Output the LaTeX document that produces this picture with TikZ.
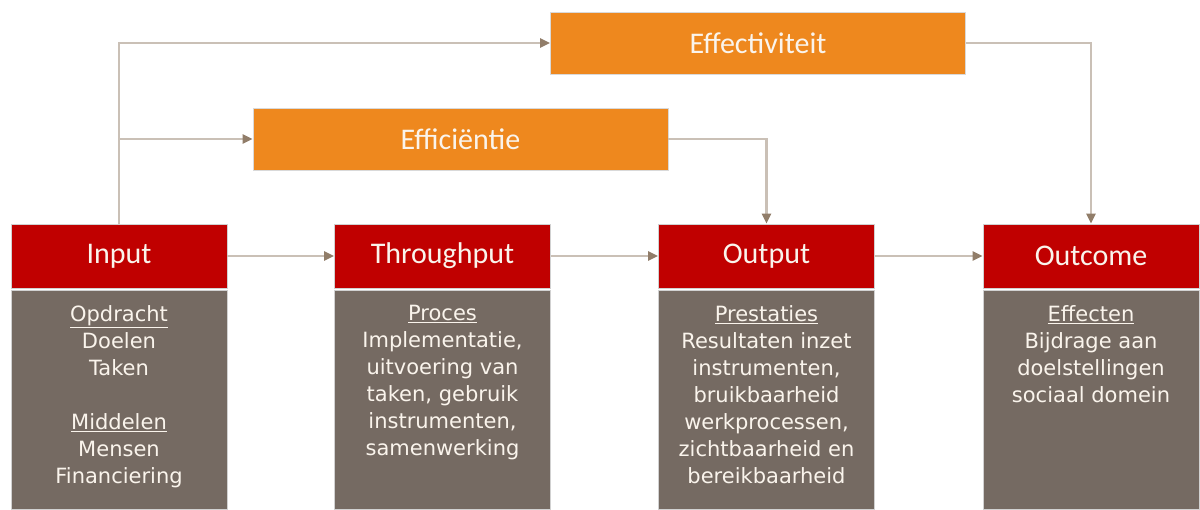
\documentclass[tikz,border=0pt]{standalone}
\usepackage{fontspec}
\setmainfont{DejaVu Sans}
\newfontfamily\headf{Carlito}
\newfontfamily\bodyf{DejaVu Sans}
\usetikzlibrary{arrows.meta}
\definecolor{hdred}{RGB}{192,0,0}
\definecolor{bodyc}{RGB}{117,106,98}
\definecolor{orng}{RGB}{238,136,30}
\definecolor{linec}{RGB}{202,192,182}
\definecolor{tipc}{RGB}{145,125,105}
\definecolor{txtc}{RGB}{250,244,236}
\begin{document}
\begin{tikzpicture}[x=1pt,y=-1pt,
  hdr/.style={rectangle,fill=hdred,draw=black!18,line width=0.8pt,minimum width=216pt,minimum height=64pt,inner sep=0pt,
    text=txtc,font=\headf\fontsize{30}{34}\selectfont},
  bodybox/.style={rectangle,fill=bodyc,draw=black!18,line width=0.8pt,minimum width=216pt,minimum height=219pt,inner sep=0pt},
  bodytxt/.style={anchor=north,align=center,inner sep=0pt,text=txtc,font=\bodyf\fontsize{21}{27}\selectfont},
  obox/.style={rectangle,fill=orng,draw=black!15,line width=0.8pt,minimum width=415pt,minimum height=62pt,inner sep=0pt,
    text=txtc,font=\headf\fontsize{30}{34}\selectfont},
  conn/.style={draw=linec,line width=2.8pt,-{Triangle[length=10pt,width=9pt,color=tipc]}},
  plain/.style={draw=linec,line width=2.8pt}
]
\useasboundingbox (0,0) rectangle (1200,509);
\fill[white] (0,0) rectangle (1200,509);

% headers
\node[hdr] (in) at (119,256) {Input};
\node[hdr] (thr) at (442.5,256) {Throughput};
\node[hdr] (out) at (766.5,256) {Output};
\node[hdr] (oc) at (1091,256) {Outcome};

% bodies
\node[bodybox] (inb) at (119,399.5) {};
\node[bodybox] (thrb) at (442.5,399.5) {};
\node[bodybox] (outb) at (766.5,399.5) {};
\node[bodybox] (ocb) at (1091,399.5) {};

\node[bodytxt] (int) at (119,305) {\underline{Opdracht}\\Doelen\\Taken\\[27pt]\underline{Middelen}\\Mensen\\Financiering};
\node[bodytxt] (thrt) at (442.5,305) {\underline{Proces}\\Implementatie,\\uitvoering van\\taken, gebruik\\instrumenten,\\samenwerking};
\node[bodytxt] (outt) at (766.5,305) {\underline{Prestaties}\\Resultaten inzet\\instrumenten,\\bruikbaarheid\\werkprocessen,\\zichtbaarheid en\\bereikbaarheid};
\node[bodytxt] (oct) at (1091,305) {\underline{Effecten}\\Bijdrage aan\\doelstellingen\\sociaal domein};

% orange boxes
\node[obox] (effi) at (460.5,139) {Efficiëntie};
\node[obox] (effe) at (758,43) {Effectiviteit};

% connectors
\draw[conn] (in.east) -- (thr.west);
\draw[conn] (thr.east) -- (out.west);
\draw[conn] (out.east) -- (oc.west);

\coordinate (split) at (in.north |- effi.west);
\draw[conn] (in.north) |- (effe.west);
\draw[conn] (split) -- (effi.west);
\draw[conn] (effi.east) -| (out.north);
\draw[conn] (effe.east) -| (oc.north);
\end{tikzpicture}
\end{document}
